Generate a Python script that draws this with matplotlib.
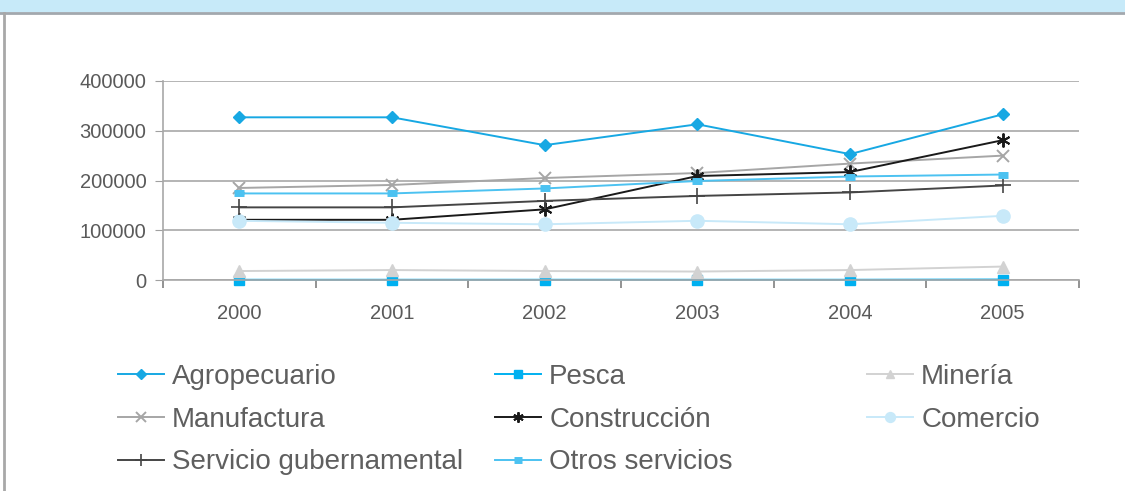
import matplotlib.pyplot as plt
from matplotlib.lines import Line2D
from matplotlib.patches import Rectangle

plt.rcParams['font.family'] = ['Liberation Sans', 'DejaVu Sans']

years = ['2000', '2001', '2002', '2003', '2004', '2005']
agropecuario = [327000, 327000, 271000, 313000, 253000, 333000]
pesca = [500, 500, 500, 500, 500, 1000]
mineria = [18000, 20000, 18000, 17000, 20000, 27000]
manufactura = [185000, 191000, 205000, 215000, 234000, 250000]
construccion = [121000, 121000, 142000, 209000, 217000, 281000]
comercio = [119000, 115000, 112000, 119000, 112000, 129000]
serv_gub = [146000, 146000, 159000, 169000, 176000, 190000]
otros_serv = [174000, 174000, 184000, 199000, 208000, 212000]

series = [
    ('Agropecuario', agropecuario, '#17a8e3', dict(marker='D', ms=6.5)),
    ('Pesca', pesca, '#00b0f0', dict(marker='s', ms=7.5)),
    ('Minería', mineria, '#d2d2d2', dict(marker='^', ms=8.5)),
    ('Manufactura', manufactura, '#a6a6a6', dict(marker='x', ms=9, mew=1.4)),
    ('Construcción', construccion, '#1a1a1a', dict(marker=(6, 2, 0), ms=10, mew=1.4)),
    ('Comercio', comercio, '#c8e9f9', dict(marker='o', ms=9.5)),
    ('Servicio gubernamental', serv_gub, '#454545', dict(marker='+', ms=11, mew=1.2)),
    ('Otros servicios', otros_serv, '#4cc2f1', dict(marker='_', ms=7, mew=5)),
]

fig = plt.figure(figsize=(11.25, 4.91), dpi=100)

# header band and frame
fig.patches.append(Rectangle((0, 1 - 11 / 491), 1, 11 / 491, transform=fig.transFigure,
                             color='#c7eaf9', zorder=0))
fig.lines.append(Line2D([0, 1], [1 - 12.5 / 491] * 2, transform=fig.transFigure,
                        color='#a2a8ae', lw=2))
fig.lines.append(Line2D([4 / 1125] * 2, [0, 1 - 12.5 / 491], transform=fig.transFigure,
                        color='#a8a8a8', lw=2))

ax = fig.add_axes([163 / 1125, 1 - 280 / 491, (1079 - 163) / 1125, (280 - 81) / 491])
x = list(range(len(years)))
handles = []
for name, vals, col, kw in series:
    h, = ax.plot(x, vals, color=col, lw=1.4, label=name, mfc=col, mec=col,
                 clip_on=False, **kw)
    handles.append(h)

ax.set_xlim(-0.5, 5.5)
ax.set_ylim(0, 400000)
ax.set_yticks([0, 100000, 200000, 300000, 400000])
ax.set_yticklabels(['0', '100000', '200000', '300000', '400000'])
ax.set_xticks(x)
ax.set_xticklabels(years)
ax.set_xticks([i - 0.5 for i in range(7)], minor=True)
ax.tick_params(axis='x', which='major', length=0, pad=17, labelsize=14.5, labelcolor='#5a5a5a')
ax.tick_params(axis='x', which='minor', length=6, color='#808080', width=1.2)
ax.tick_params(axis='y', length=6, color='#a0a0a0', labelsize=14.5, labelcolor='#5a5a5a', pad=6)
ax.grid(axis='y', color='#a8a8a8', lw=1.2)
ax.set_axisbelow(True)
for s in ['top', 'right']:
    ax.spines[s].set_visible(False)
ax.spines['left'].set_color('#a8a8a8')
ax.spines['bottom'].set_color('#a8a8a8')
ax.spines['left'].set_linewidth(1.2)
ax.spines['bottom'].set_linewidth(1.2)

# legend in three evenly spaced columns
cols = [(handles[0::3], 118), (handles[1::3], 495), (handles[2::3], 867)]
for hs, xp in cols:
    leg = fig.legend(handles=hs, labels=[h.get_label() for h in hs],
                     loc='upper left', bbox_to_anchor=(xp / 1125, 1 - 364 / 491),
                     frameon=False, fontsize=20, handlelength=1.65, handletextpad=0.3,
                     labelspacing=0.6, borderpad=0, borderaxespad=0, markerscale=0.75)
    for t in leg.get_texts():
        t.set_color('#5f5f5f')

fig.savefig('out.png', dpi=100)
